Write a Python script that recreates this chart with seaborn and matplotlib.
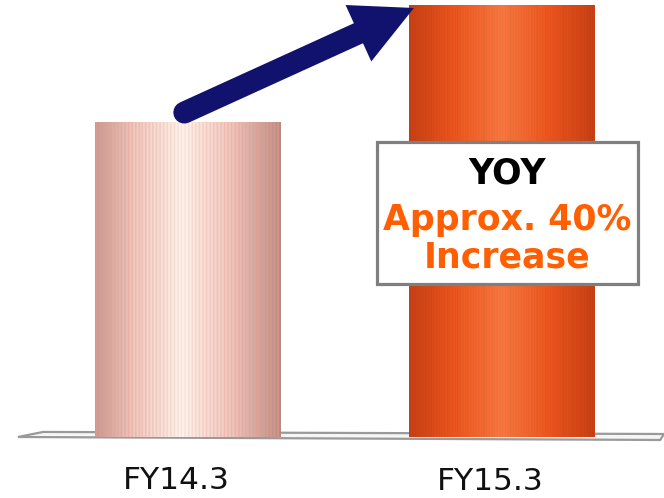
import numpy as np
import pandas as pd
import matplotlib
matplotlib.use("Agg")
import matplotlib.pyplot as plt
from matplotlib.patches import Polygon, Rectangle
from matplotlib.lines import Line2D
from matplotlib.transforms import IdentityTransform
import seaborn as sns

# Data
years = ["FY14.3", "FY15.3"]
values = [100, 137]          # index, FY14.3 = 100 (approx. +40% YoY)
headline = "YOY"
note_lines = ["Approx. 40%", "Increase"]

df = pd.DataFrame({"year": years, "value": values})

sns.set_style("white")
plt.rcParams["font.family"] = ["DejaVu Sans"]

fig = plt.figure(figsize=(6.64, 4.98), dpi=100)
ax = fig.add_axes([0, 0, 1, 1])

bar_w = 0.59
sns.barplot(data=df, x="year", y="value", ax=ax, width=bar_w,
            color="#f05a1a", saturation=1, zorder=3)
bars = list(ax.patches)[:2]

XLIM = (-0.596, 1.515)
YLIM = (-19.37, 138.73)
ax.set_xlim(*XLIM)
ax.set_ylim(*YLIM)
ax.set_axis_off()

# Floor plane under the cylinders
floor = Polygon([(-0.459, 1.6), (1.515, 0.95), (1.503, -0.95), (-0.539, 0.0)],
                closed=True, facecolor="#f6f6f6", edgecolor="#9a9a9a",
                lw=1.6, zorder=1)
ax.add_patch(floor)


def cylinder_shading(n, edge, mid, center, peak=0.47):
    u = np.linspace(0, 1, n)
    d = np.clip(np.abs(u - peak) / max(peak, 1 - peak), 0, 1)
    edge, mid, center = (np.array(c, float) / 255 for c in (edge, mid, center))
    t1 = np.clip(d * 2, 0, 1)[:, None]           # center -> mid
    t2 = np.clip(d * 2 - 1, 0, 1)[:, None]       # mid -> edge
    col = center * (1 - t1) + mid * t1
    col = col * (1 - t2) + edge * t2
    return u, d, col


# FY14.3: pale cylinder with fine pink vertical stripes
n = 260
u, d, col1 = cylinder_shading(n, (180, 140, 130), (238, 200, 190), (253, 245, 236))
stripe = (np.sin(2 * np.pi * u * 52) > 0.3).astype(float)
pink = np.array([242, 150, 140]) / 255
w = (stripe * (0.2 + 0.45 * d))[:, None]
col1 = col1 * (1 - w) + pink * w

# FY15.3: orange-red cylinder
_, _, col2 = cylinder_shading(n, (200, 64, 20), (238, 86, 30), (248, 120, 64), peak=0.5)
fine = (np.sin(2 * np.pi * u * 70) > 0.6).astype(float)[:, None] * 0.05
col2 = np.clip(col2 * (1 - fine), 0, 1)

for patch, cols in zip(bars, [col1, col2]):
    x0, y0 = patch.get_x(), patch.get_y()
    pw, ph = patch.get_width(), patch.get_height()
    img = np.repeat(cols[None, :, :], 4, axis=0)
    im = ax.imshow(img, extent=[x0, x0 + pw, y0, y0 + ph], aspect="auto",
                   interpolation="bilinear", zorder=3.5)
    im.set_clip_path(patch)
    patch.set_facecolor("none")
    patch.set_edgecolor("none")

ax.set_xlim(*XLIM)
ax.set_ylim(*YLIM)

# Category labels under the floor
for i, lab in enumerate(years):
    ax.text(i - 0.037, -16.5 - 0.35 * i, lab, ha="center", va="baseline",
            fontsize=22.5, color="#111111", clip_on=False)

# Growth arrow from FY14.3 top toward FY15.3 top
fig.canvas.draw()
to_px = ax.transData.transform
start = to_px((0 - 0.01, values[0] + 3))
tip = to_px((1 - bar_w / 2 + 0.015, values[1] - 0.8))
vec = tip - start
dirv = vec / np.hypot(*vec)
perp = np.array([-dirv[1], dirv[0]])
head_len, head_half, shaft = 61, 31, 22
base = tip - dirv * head_len
navy = "#11116e"
ax.add_line(Line2D([start[0], base[0]], [start[1], base[1]],
                   transform=IdentityTransform(), color=navy,
                   lw=shaft * 72 / 100, solid_capstyle="round", zorder=6))
ax.add_patch(Polygon([tip, base + perp * head_half, base - perp * head_half],
                     closed=True, transform=IdentityTransform(),
                     facecolor=navy, edgecolor="none", zorder=6))

# Annotation box
ax.add_patch(Rectangle((377 / 664, 1 - 284 / 498), 261 / 664, 142 / 498,
                       transform=ax.transAxes, facecolor="white",
                       edgecolor="#7f7f7f", lw=2.3, zorder=7))
cx = 507 / 664
ax.text(cx, 1 - 183 / 498, headline, transform=ax.transAxes, ha="center",
        va="baseline", fontsize=25, fontweight="bold", color="black", zorder=8)
ax.text(cx, 1 - 230 / 498, note_lines[0], transform=ax.transAxes, ha="center",
        va="baseline", fontsize=25, fontweight="bold", color="#ff5f00", zorder=8)
ax.text(cx, 1 - 267 / 498, note_lines[1], transform=ax.transAxes, ha="center",
        va="baseline", fontsize=25, fontweight="bold", color="#ff5f00", zorder=8)

fig.savefig("out.png", dpi=100)
